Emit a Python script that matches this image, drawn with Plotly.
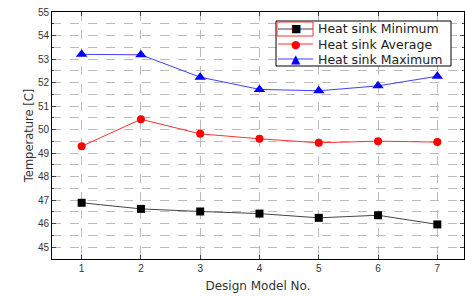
import plotly.graph_objects as go

models = [1, 2, 3, 4, 5, 6, 7]
t_min = [46.89, 46.63, 46.52, 46.43, 46.25, 46.36, 45.97]
t_avg = [49.29, 50.44, 49.82, 49.61, 49.44, 49.51, 49.47]
t_max = [53.20, 53.18, 52.23, 51.71, 51.65, 51.86, 52.27]
names = ["Heat sink Minimum", "Heat sink Average", "Heat sink Maximum"]
line_colors = ["#444444", "#ff3030", "#4040ff"]
marker_colors = ["black", "#ff0000", "#0000ff"]
marker_symbols = ["square", "circle", "triangle-up"]
marker_sizes = [8, 8, 10]
legend_glyphs = ["■", "●", "▲"]
legend_glyph_sizes = [11, 11, 12]

W, H = 465, 297
ML, MR, MT, MB = 52, 1, 12, 38
PW, PH = W - ML - MR, H - MT - MB

def px_x(p):
    return (p - ML) / PW

def px_y(p):
    return (H - MB - p) / PH

fig = go.Figure()
for i in range(3):
    ys = [t_min, t_avg, t_max][i]
    fig.add_trace(go.Scatter(x=models, y=ys, name=names[i], mode="lines+markers",
                             line=dict(color=line_colors[i], width=1),
                             marker=dict(symbol=marker_symbols[i], size=marker_sizes[i],
                                         color=marker_colors[i])))

# legend box drawn as a layout decoration
shapes = [dict(type="rect", xref="paper", yref="paper",
               x0=px_x(276), x1=px_x(451), y0=px_y(66), y1=px_y(21),
               line=dict(color="black", width=1), fillcolor="white", layer="above")]
annotations = []
rows = [29, 44, 59]
for i in range(3):
    shapes.append(dict(type="line", xref="paper", yref="paper",
                       x0=px_x(278), x1=px_x(313), y0=px_y(rows[i]), y1=px_y(rows[i]),
                       line=dict(color=line_colors[i], width=1.2), layer="above"))
    annotations.append(dict(xref="paper", yref="paper", x=px_x(296), y=px_y(rows[i]),
                            text=legend_glyphs[i], showarrow=False,
                            xanchor="center", yanchor="middle",
                            font=dict(family="DejaVu Sans", size=legend_glyph_sizes[i],
                                      color=marker_colors[i])))
    annotations.append(dict(xref="paper", yref="paper", x=px_x(316), y=px_y(rows[i]),
                            text=names[i], showarrow=False,
                            xanchor="left", yanchor="middle",
                            font=dict(family="DejaVu Sans", size=12.5, color="#222222")))
# red selection frame around the first legend symbol, as in the reference
shapes.append(dict(type="rect", xref="paper", yref="paper",
                   x0=px_x(277), x1=px_x(313), y0=px_y(36), y1=px_y(22),
                   line=dict(color="#ff3030", width=1), fillcolor="rgba(0,0,0,0)", layer="above"))

tickfont = dict(family="Liberation Sans, Arial", size=10, color="#333333")
fig.update_layout(
    width=W, height=H,
    margin=dict(l=ML, r=MR, t=MT, b=MB),
    paper_bgcolor="white", plot_bgcolor="white",
    showlegend=False,
    shapes=shapes, annotations=annotations,
    xaxis=dict(range=[0.5, 7.45], tickvals=models, ticks="inside", ticklen=4,
               showline=True, linecolor="black", linewidth=1, mirror="ticks",
               showgrid=True, gridcolor="#bbbbbb", griddash="dash", gridwidth=1,
               zeroline=False, tickfont=tickfont,
               title=dict(text="Design Model No.", standoff=8,
                          font=dict(family="DejaVu Sans", size=12, color="#333333"))),
    yaxis=dict(range=[44.5, 55], dtick=1, tick0=45, ticks="inside", ticklen=4,
               showline=True, linecolor="black", linewidth=1, mirror="ticks",
               showgrid=True, gridcolor="#bbbbbb", griddash="dash", gridwidth=1,
               zeroline=False, tickfont=tickfont,
               minor=dict(dtick=0.5, tick0=45, ticks="inside", ticklen=2,
                          showgrid=True, gridcolor="#bbbbbb", griddash="dash"),
               title=dict(text="Temperature [C]", standoff=1,
                          font=dict(family="DejaVu Sans", size=11.5, color="#333333"))),
)
fig.write_html("out.html", config={"displayModeBar": False},
               post_script="document.body.style.margin='0';document.body.style.overflow='hidden';")
